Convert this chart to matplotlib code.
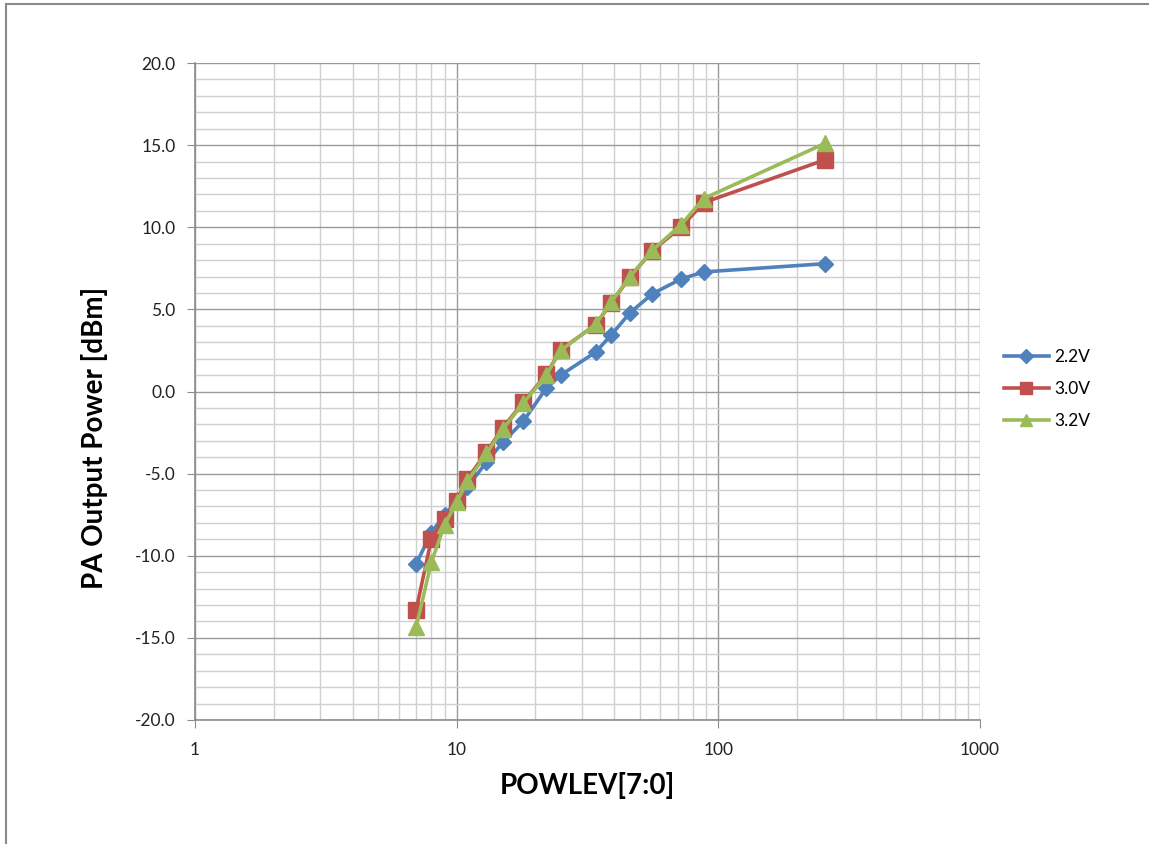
import numpy as np
import matplotlib.pyplot as plt
from matplotlib.ticker import LogLocator, FixedLocator, NullFormatter, FormatStrFormatter
from matplotlib.lines import Line2D

powlev = [7, 8, 9, 10, 11, 13, 15, 18, 22, 25, 34, 39, 46, 56, 72, 88, 255]
p_22v = [-10.5, -8.6, -7.5, -6.7, -5.8, -4.3, -3.1, -1.8, 0.2, 1.0, 2.4, 3.45, 4.8, 5.95, 6.85, 7.28, 7.78]
p_30v = [-13.3, -9.0, -7.75, -6.65, -5.3, -3.7, -2.2, -0.65, 1.05, 2.55, 4.07, 5.4, 6.97, 8.58, 10.0, 11.5, 14.1]
p_32v = [-14.35, -10.4, -8.1, -6.75, -5.45, -3.77, -2.3, -0.7, 1.0, 2.5, 4.1, 5.45, 7.0, 8.6, 10.15, 11.75, 15.1]

labels = ['2.2V', '3.0V', '3.2V']
colors = ['#4F81BD', '#C0504D', '#9BBB59']
markers = ['D', 's', '^']
msizes = [8, 11, 11]

plt.rcParams['font.family'] = ['Lato', 'DejaVu Sans']

fig = plt.figure(figsize=(11.49, 8.44), dpi=100)
ax = fig.add_axes([195 / 1149, 1 - 720 / 844, (980 - 195) / 1149, (720 - 63) / 844])

for y, lab, c, m, ms in zip([p_22v, p_30v, p_32v], labels, colors, markers, msizes):
    ax.plot(powlev, y, color=c, lw=2.6, marker=m, ms=ms, label=lab, zorder=3)

ax.set_xscale('log')
ax.set_xlim(1, 1000)
ax.set_ylim(-20, 20)
ax.xaxis.set_major_locator(LogLocator(base=10, numticks=10))
ax.xaxis.set_minor_locator(LogLocator(base=10, subs=np.arange(2, 10), numticks=10))
ax.xaxis.set_minor_formatter(NullFormatter())
ax.xaxis.set_major_formatter(FormatStrFormatter('%g'))
ax.yaxis.set_major_locator(FixedLocator(np.arange(-20, 21, 5)))
ax.yaxis.set_minor_locator(FixedLocator(np.arange(-20, 21, 1)))
ax.yaxis.set_major_formatter(FormatStrFormatter('%.1f'))

ax.grid(which='major', color='#9a9a9a', lw=1.0)
ax.grid(which='minor', color='#d0d0d0', lw=1.0)
ax.set_axisbelow(True)
for s in ['top', 'right']:
    ax.spines[s].set_visible(False)
for s in ['left', 'bottom']:
    ax.spines[s].set_color('#8c8c8c')
    ax.spines[s].set_linewidth(1.2)
ax.tick_params(which='major', length=6, color='#8c8c8c', labelsize=12.5, labelcolor='#222222')
ax.tick_params(axis='x', which='major', pad=10)
ax.tick_params(axis='y', which='major', pad=8)
ax.tick_params(which='minor', length=0)

ax.set_xlabel('POWLEV[7:0]', fontsize=20, fontweight='bold', labelpad=10)
ax.set_ylabel('PA Output Power [dBm]', fontsize=20, fontweight='bold')
ax.yaxis.set_label_coords(-0.111, 0.43)

leg = fig.legend(loc='center left', bbox_to_anchor=(988 / 1149, 1 - 389 / 844),
                 frameon=False, fontsize=12.5, handlelength=2.6, labelspacing=0.9,
                 handletextpad=0.3, markerscale=0.85)

# outer chart border (left/top visible)
fig.add_artist(Line2D([6 / 1149, 6 / 1149], [0, 1 - 4 / 844], color='#8a8a8a', lw=1.5))
fig.add_artist(Line2D([6 / 1149, 1], [1 - 4 / 844, 1 - 4 / 844], color='#8a8a8a', lw=1.5))

fig.savefig('out.png', dpi=100)
